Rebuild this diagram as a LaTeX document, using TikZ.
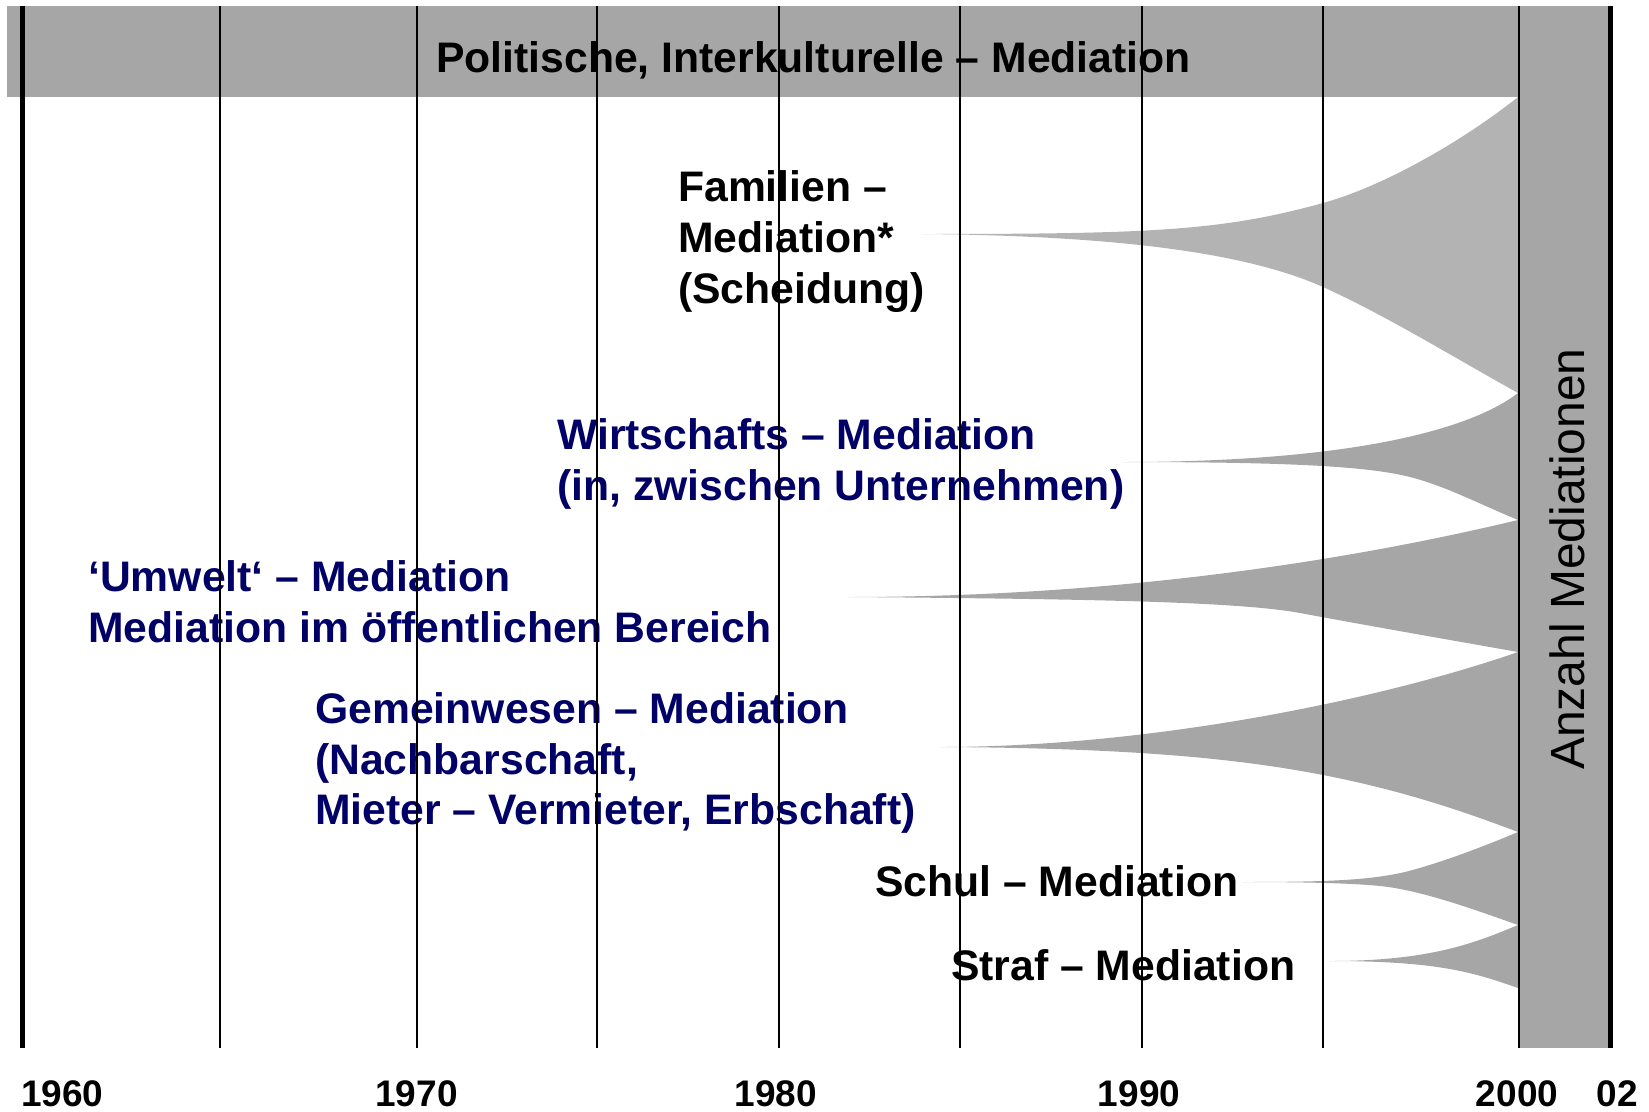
\documentclass[tikz,border=0pt]{standalone}
\usepackage{fontspec}
\setmainfont{Liberation Sans}
\definecolor{bandgray}{RGB}{166,166,166}
\definecolor{famgray}{RGB}{179,179,179}
\definecolor{navy}{RGB}{0,0,102}
\begin{document}
\begin{tikzpicture}[x=1pt,y=-1pt,
  lbl/.style={inner sep=0pt, anchor=base west, font=\fontsize{42.7}{50}\selectfont\bfseries},
  navylbl/.style={lbl, text=navy},
  yearlbl/.style={inner sep=0pt, anchor=base, font=\fontsize{37}{44}\selectfont\bfseries},
  yearline/.style={line width=2pt, black},
  edgeline/.style={line width=5pt, black},
  horn/.style={fill=bandgray},
  famhorn/.style={fill=famgray},
]
\useasboundingbox (0,0) rectangle (1649,1111);

% grey header band and right-hand column
\fill[bandgray] (7,6) rectangle (1610,97);
\fill[bandgray] (1519,6) rectangle (1610,1048);

% horns: growth of each field of mediation up to 2000
% family
\fill[famhorn] (922,234) .. controls (1150,234) and (1222,231) .. (1323,203)
  .. controls (1388,185) and (1468,137) .. (1518,97)
  -- (1518,393) .. controls (1455,358) and (1385,315) .. (1323,287)
  .. controls (1260,259) and (1150,236) .. (922,234) -- cycle;
% business
\fill[horn] (1123,462) .. controls (1350,462) and (1470,430) .. (1518,393)
  -- (1518,520) .. controls (1475,502) and (1445,486) .. (1410,477)
  .. controls (1370,467) and (1300,462) .. (1123,462) -- cycle;
% environment / public sector
\fill[horn] (848,597) .. controls (1100,597) and (1330,565) .. (1518,520)
  -- (1518,652) .. controls (1450,640) and (1370,626) .. (1300,613)
  .. controls (1240,602) and (1100,599) .. (848,597) -- cycle;
% community
\fill[horn] (940,747) .. controls (1150,747) and (1380,700) .. (1518,652)
  -- (1518,832) .. controls (1460,810) and (1400,790) .. (1323,775)
  .. controls (1250,761) and (1150,748) .. (940,747) -- cycle;
% school
\fill[horn] (1242,882) .. controls (1330,882) and (1370,880) .. (1405,872)
  .. controls (1440,863) and (1480,848) .. (1518,832)
  -- (1518,925) .. controls (1470,908) and (1420,890) .. (1380,886)
  .. controls (1350,883) and (1300,882) .. (1242,882) -- cycle;
% criminal
\fill[horn] (1330,961) .. controls (1430,961) and (1475,943) .. (1518,925)
  -- (1518,988) .. controls (1475,973) and (1440,961) .. (1330,961) -- cycle;

% labels
\node[lbl] (title) at (436,72) {Politische, Interkulturelle – Mediation};

\node[lbl] (fam1) at (678,201) {Familien –};
\node[lbl] (fam2) at (678,252) {Mediation*};
\node[lbl] (fam3) at (678,303) {(Scheidung)};

\node[navylbl] (wirt1) at (557,449) {Wirtschafts – Mediation};
\node[navylbl] (wirt2) at (557,500) {(in, zwischen Unternehmen)};

\node[navylbl] (umw1) at (88,591) {‘Umwelt‘ – Mediation};
\node[navylbl] (umw2) at (88,642) {Mediation im öffentlichen Bereich};

\node[navylbl] (gem1) at (315,723) {Gemeinwesen – Mediation};
\node[navylbl] (gem2) at (315,774) {(Nachbarschaft,};
\node[navylbl] (gem3) at (315,824) {Mieter – Vermieter, Erbschaft)};

\node[lbl] (schul) at (875,896) {Schul – Mediation};
\node[lbl] (straf) at (951,980) {Straf – Mediation};

\node[inner sep=0pt, anchor=base, rotate=90, font=\fontsize{48}{56}\selectfont] (anzahl) at (1584,559) {Anzahl Mediationen};

% time axis: grid lines every five years
\foreach \xx/\nm in {220/a,416.5/b,597/c,779/d,960/e,1142/f,1323/g,1519/h} {
  \coordinate (top\nm) at (\xx,6);
  \coordinate (bot\nm) at (\xx,1048);
  \draw[yearline] (top\nm) -- (bot\nm);
}
\coordinate (leftTop) at (22,6);
\coordinate (leftBot) at (22,1048);
\coordinate (rightTop) at (1610,6);
\coordinate (rightBot) at (1610,1048);
\draw[edgeline] (leftTop) -- (leftBot);
\draw[edgeline] (rightTop) -- (rightBot);

% year labels
\node[yearlbl, anchor=base west] (y1960) at (21,1106) {1960};
\node[yearlbl] (y1970) at (416.5,1106) {1970};
\node[yearlbl] (y1980) at (776,1106) {1980};
\node[yearlbl] (y1990) at (1139,1106) {1990};
\node[yearlbl] (y2000) at (1517,1106) {2000};
\node[yearlbl] (y2002) at (1617,1106) {02};
\end{tikzpicture}
\end{document}
